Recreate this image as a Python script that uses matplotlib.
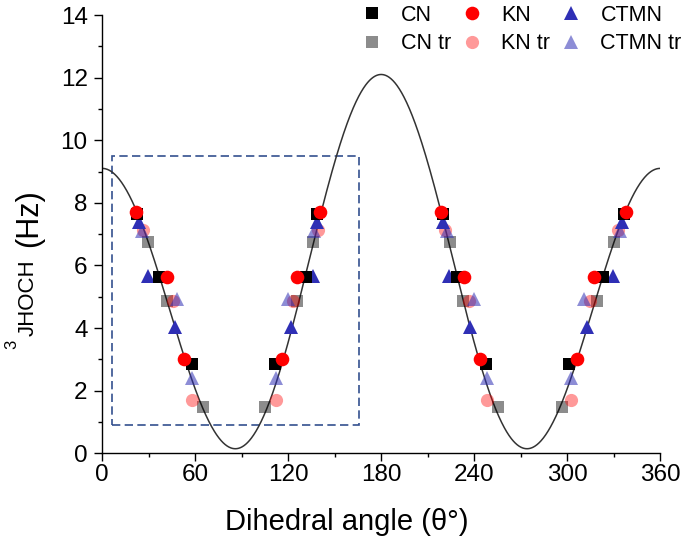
import numpy as np
import matplotlib
matplotlib.use("Agg")
import matplotlib.pyplot as plt
from matplotlib.patches import Rectangle
from matplotlib.ticker import MultipleLocator

plt.rcParams['font.family'] = ['Liberation Sans', 'DejaVu Sans']

# Karplus curve coefficients (J = A cos^2 + B cos + C)
karplus_A, karplus_B, karplus_C = 10.4, -1.5, 0.2

# Data (dihedral angle in degrees, 3J in Hz)
cn_theta = [22.2, 36.8, 57.7, 111.5, 131.3, 138.8, 219.8, 228.8, 247.5, 301.5, 323.4, 337.0]
cn_j = [7.64, 5.62, 2.84, 2.84, 5.62, 7.64, 7.64, 5.62, 2.84, 2.84, 5.62, 7.64]

kn_theta = [21.8, 41.6, 52.7, 115.8, 125.5, 140.5, 218.7, 233.5, 243.8, 306.3, 317.6, 337.9]
kn_j = [7.72, 5.62, 3.01, 3.01, 5.62, 7.72, 7.72, 5.62, 3.01, 3.01, 5.62, 7.72]

ctmn_theta = [23.9, 29.7, 46.9, 121.6, 135.8, 138.4, 220.1, 224.0, 237.4, 312.7, 329.9, 335.3]
ctmn_j = [7.38, 5.67, 4.05, 4.05, 5.67, 7.38, 7.38, 5.67, 4.05, 4.05, 5.67, 7.38]

cn_tr_theta = [29.7, 41.6, 64.8, 105.0, 125.9, 136.2, 224.5, 233.1, 255.6, 296.6, 319.2, 330.3]
cn_tr_j = [6.76, 4.87, 1.49, 1.49, 4.87, 6.76, 6.76, 4.87, 1.49, 1.49, 4.87, 6.76]

kn_tr_theta = [26.5, 45.4, 57.7, 112.1, 122.9, 139.4, 221.2, 236.9, 248.2, 302.4, 314.8, 333.1]
kn_tr_j = [7.12, 4.85, 1.70, 1.70, 4.85, 7.12, 7.12, 4.85, 1.70, 1.70, 4.85, 7.12]

ctmn_tr_theta = [25.4, 48.4, 57.7, 112.1, 120.1, 136.7, 222.7, 240.0, 248.2, 302.4, 311.0, 334.2]
ctmn_tr_j = [7.10, 4.92, 2.40, 2.40, 4.92, 7.10, 7.10, 4.92, 2.40, 2.40, 4.92, 7.10]

x_ticks = [0, 60, 120, 180, 240, 300, 360]
y_ticks = [0, 2, 4, 6, 8, 10, 12, 14]

W, H = 685, 538
fig = plt.figure(figsize=(W / 100, H / 100), dpi=100)
ax = fig.add_axes([102.3 / W, 1 - 453.3 / H, (660 - 102.3) / W, (453.3 - 15) / H])

theta = np.linspace(0, 360, 1441)
c = np.cos(np.radians(theta))
ax.plot(theta, karplus_A * c ** 2 + karplus_B * c + karplus_C, color='#333333', lw=1.1, zorder=2)

ax.add_patch(Rectangle((6.5, 0.9), 159.5, 8.6, fill=False, edgecolor='#34508f',
                       lw=1.2, ls=(0, (5, 2.6)), zorder=1))

blue = '#2f2fb5'
h_cntr, = ax.plot(cn_tr_theta, cn_tr_j, 's', color='black', alpha=0.45, ms=8, mew=0, zorder=3, label='CN tr')
h_kntr, = ax.plot(kn_tr_theta, kn_tr_j, 'o', color='red', alpha=0.4, ms=9.5, mew=0, zorder=3, label='KN tr')
h_cttr, = ax.plot(ctmn_tr_theta, ctmn_tr_j, '^', color=blue, alpha=0.55, ms=9.5, mew=0, zorder=3, label='CTMN tr')
h_ct, = ax.plot(ctmn_theta, ctmn_j, '^', color=blue, ms=9.5, mew=0, zorder=4, label='CTMN')
h_cn, = ax.plot(cn_theta, cn_j, 's', color='black', ms=8, mew=0, zorder=4, label='CN')
h_kn, = ax.plot(kn_theta, kn_j, 'o', color='red', ms=9.8, mew=0, zorder=5, label='KN')

ax.set_xlim(0, 360)
ax.set_ylim(0, 14)
ax.set_xticks(x_ticks)
ax.set_yticks(y_ticks)
ax.xaxis.set_minor_locator(MultipleLocator(30))
ax.yaxis.set_minor_locator(MultipleLocator(1))
for s in ['top', 'right']:
    ax.spines[s].set_visible(False)
for s in ['left', 'bottom']:
    ax.spines[s].set_linewidth(1.0)
ax.tick_params(which='major', direction='out', length=5.5, width=1.0, labelsize=17.5)
ax.tick_params(which='minor', direction='out', length=3, width=1.0)
ax.tick_params(axis='x', which='major', pad=2.5)
ax.tick_params(axis='y', which='major', pad=5)

fig.text(346.7 / W, 1 - 530 / H, 'Dihedral angle (θ°)', ha='center', va='baseline', fontsize=21)
fig.text(29 / W, 1 - 218 / H, '(Hz)', rotation=90, ha='center', va='center', fontsize=22)
fig.text(28.5 / W, 1 - 298 / H, 'JHOCH', rotation=90, ha='center', va='center', fontsize=16)
fig.text(11.5 / W, 1 - 344 / H, '3', rotation=90, ha='center', va='center', fontsize=12)

leg = ax.legend(handles=[h_cn, h_cntr, h_kn, h_kntr, h_ct, h_cttr], ncol=3, frameon=False,
                fontsize=15.5, handlelength=1.0, handletextpad=0.87, columnspacing=0.45,
                labelspacing=0.34, borderpad=0, borderaxespad=0, loc='upper left',
                bbox_to_anchor=(361 / W, 1 - 5 / H), bbox_transform=fig.transFigure)

fig.savefig('out.png', dpi=100)
